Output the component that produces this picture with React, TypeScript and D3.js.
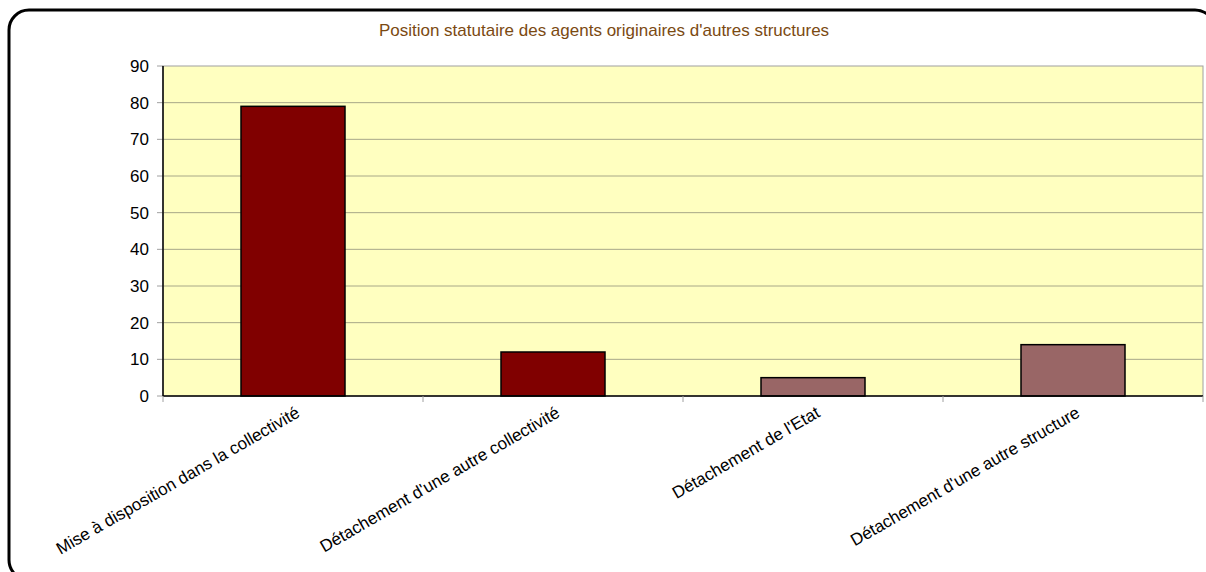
import React from 'react';
import * as d3 from 'd3';

const categories = [
  'Mise à disposition dans la collectivité',
  "Détachement d'une autre collectivité",
  "Détachement de l'Etat",
  "Détachement d'une autre structure",
];
const values = [79, 12, 5, 14];
const barColors = ['#800000', '#800000', '#996666', '#996666'];
const yTicks = [0, 10, 20, 30, 40, 50, 60, 70, 80, 90];

const W = 1206;
const H = 572;
const plot = { left: 163, top: 66, right: 1203, bottom: 396 };

export default function App() {
  const x = d3.scaleBand<string>()
    .domain(categories)
    .range([plot.left, plot.right])
    .paddingInner(0.6)
    .paddingOuter(0.3);
  const band = (plot.right - plot.left) / categories.length;
  const y = d3.scaleLinear().domain([0, 90]).range([plot.bottom, plot.top]);
  const font = 'Arial, "Liberation Sans", sans-serif';

  return (
    <svg width={W} height={H} style={{ position: 'absolute', left: 0, top: 0 }} fontFamily={font}>
      <rect x={0} y={0} width={W} height={H} fill="#fff" />
      <rect x={9} y={10} width={1206} height={570} rx={20} ry={20} fill="none" stroke="#000" strokeWidth={3} />
      <text x={604} y={36} textAnchor="middle" fontSize={17} fill="#7b4a12">
        Position statutaire des agents originaires d'autres structures
      </text>

      <rect x={plot.left} y={plot.top} width={plot.right - plot.left} height={plot.bottom - plot.top}
        fill="#ffffc0" stroke="#a0a0a0" strokeWidth={1} />
      {yTicks.filter(t => t > 0 && t < 90).map(t => (
        <line key={t} x1={plot.left} x2={plot.right} y1={y(t)} y2={y(t)} stroke="#a8a888" strokeWidth={1} />
      ))}
      {yTicks.map(t => (
        <g key={'yt' + t}>
          <line x1={plot.left - 6} x2={plot.left} y1={y(t)} y2={y(t)} stroke="#a0a0a0" />
          <text x={plot.left - 14} y={y(t)} dy="0.35em" textAnchor="end" fontSize={17} fill="#000">{t}</text>
        </g>
      ))}

      {categories.map((c, i) => (
        <rect key={c} x={x(c)} y={y(values[i])} width={x.bandwidth()} height={y(0) - y(values[i])}
          fill={barColors[i]} stroke="#000" strokeWidth={1.5} />
      ))}

      <line x1={plot.left} x2={plot.left} y1={plot.top} y2={plot.bottom} stroke="#000" strokeWidth={1.5} />
      <line x1={plot.left} x2={plot.right} y1={plot.bottom} y2={plot.bottom} stroke="#000" strokeWidth={1.5} />
      {d3.range(categories.length + 1).map(i => (
        <line key={'xt' + i} x1={plot.left + i * band} x2={plot.left + i * band}
          y1={plot.bottom} y2={plot.bottom + 6} stroke="#a0a0a0" />
      ))}

      {categories.map(c => {
        const cx = (x(c) as number) + x.bandwidth() / 2 + 8;
        const cy = plot.bottom + 20;
        return (
          <text key={'l' + c} x={cx} y={cy} textAnchor="end" fontSize={17} fill="#000"
            transform={`rotate(-30 ${cx} ${cy})`}>{c}</text>
        );
      })}
    </svg>
  );
}
